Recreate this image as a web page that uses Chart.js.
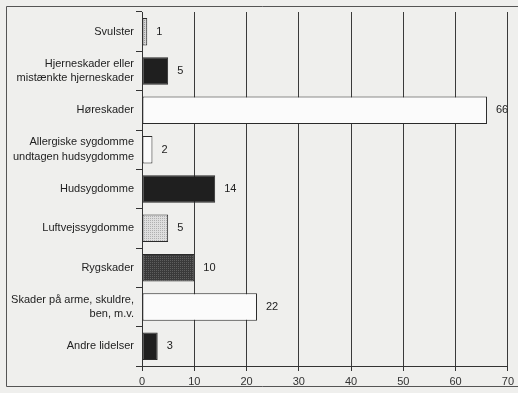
<!DOCTYPE html>
<html>
<head>
<meta charset="utf-8">
<script src="https://cdn.jsdelivr.net/npm/chart.js@4"></script>
<style>
  html, body { margin: 0; padding: 0; background: #efefed; }
  #wrap { width: 518px; height: 393px; position: relative; }
</style>
</head>
<body>
<div id="wrap"><canvas id="chart" width="518" height="393"></canvas></div>
<script>
const categories = [
  "Svulster",
  ["Hjerneskader eller", "mistænkte hjerneskader"],
  "Høreskader",
  ["Allergiske sygdomme", "undtagen hudsygdomme"],
  "Hudsygdomme",
  "Luftvejssygdomme",
  "Rygskader",
  ["Skader på arme, skuldre,", "ben, m.v."],
  "Andre lidelser"
];
const values = [1, 5, 66, 2, 14, 5, 10, 22, 3];
const xTicks = [0, 10, 20, 30, 40, 50, 60, 70];

// scanned-look fills
function stipple(base, dot, step) {
  const c = document.createElement("canvas");
  c.width = 6; c.height = 6;
  const g = c.getContext("2d");
  g.fillStyle = base;
  g.fillRect(0, 0, 6, 6);
  g.fillStyle = dot;
  for (let y = 0; y < 6; y += step)
    for (let x = (y % 2); x < 6; x += step) g.fillRect(x, y, 1, 1);
  return g.createPattern(c, "repeat");
}

const dark = "#1f1f1f";
const white = "#fbfbfb";
const fills = [
  stipple("#d6d6d6", "#9a9a9a", 2),
  dark,
  white,
  white,
  dark,
  stipple("#dedede", "#b0b0b0", 2),
  stipple("#3a3a3a", "#5e5e5e", 2),
  white,
  dark
];

const frame = {
  id: "frame",
  beforeDraw(c) {
    const ctx = c.ctx;
    ctx.save();
    ctx.strokeStyle = "#555";
    ctx.lineWidth = 1;
    ctx.beginPath();
    ctx.moveTo(518, 6.5);
    ctx.lineTo(6.5, 6.5);
    ctx.lineTo(6.5, 386.5);
    ctx.lineTo(518, 386.5);
    ctx.stroke();
    ctx.restore();
  }
};

const valueLabels = {
  id: "valueLabels",
  afterDatasetsDraw(c) {
    const ctx = c.ctx;
    ctx.save();
    ctx.font = "11px 'Liberation Sans', Arial, sans-serif";
    ctx.fillStyle = "#222";
    ctx.textAlign = "left";
    ctx.textBaseline = "middle";
    c.getDatasetMeta(0).data.forEach((bar, i) => {
      ctx.fillText(String(values[i]), bar.x + 9, bar.y);
    });
    ctx.restore();
  }
};

new Chart(document.getElementById("chart"), {
  type: "bar",
  data: {
    labels: categories,
    datasets: [{
      data: values,
      backgroundColor: fills,
      borderColor: "#2a2a2a",
      borderWidth: 1,
      borderSkipped: false,
      barPercentage: 0.7,
      categoryPercentage: 1
    }]
  },
  options: {
    indexAxis: "y",
    responsive: false,
    animation: false,
    layout: { padding: { top: 12, right: 10, left: 0, bottom: 0 } },
    plugins: { legend: { display: false }, tooltip: { enabled: false } },
    scales: {
      x: {
        min: 0,
        max: 70,
        afterFit: s => { s.height = 27; },
        afterBuildTicks: s => { s.ticks = xTicks.map(v => ({ value: v })); },
        border: { color: "#333", width: 1 },
        grid: { color: "#3a3a3a", lineWidth: 1, tickLength: 5, tickColor: "#333" },
        ticks: {
          padding: 4,
          color: "#333",
          font: { family: "'Liberation Sans', Arial, sans-serif", size: 11 }
        }
      },
      y: {
        afterFit: s => { s.width = 142; },
        border: { color: "#333", width: 1 },
        grid: { offset: true, drawOnChartArea: false, tickLength: 6, tickColor: "#333" },
        ticks: {
          padding: 2,
          color: "#222",
          font: { family: "'Liberation Sans', Arial, sans-serif", size: 11, lineHeight: 1.35 }
        }
      }
    }
  },
  plugins: [frame, valueLabels]
});
</script>
</body>
</html>
